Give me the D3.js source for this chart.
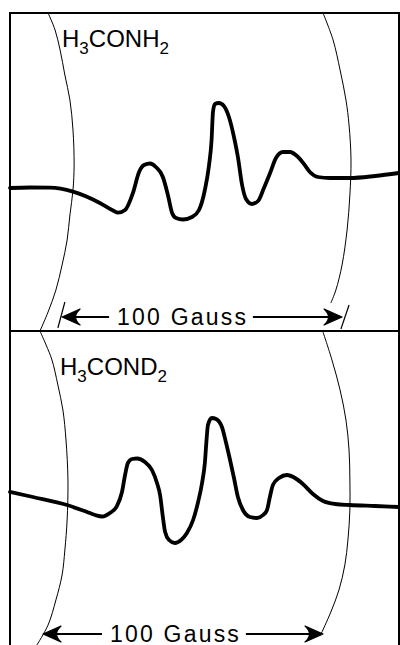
<!DOCTYPE html>
<html>
<head>
<meta charset="utf-8">
<script src="https://cdn.jsdelivr.net/npm/d3@7"></script>
<style>
  body { margin: 0; background: #fff; }
  svg { display: block; }
  text { font-family: "Liberation Sans", Arial, sans-serif; fill: #000; }
</style>
</head>
<body>
<script>
// field in gauss from the left frame edge, signal in arbitrary units (0 = baseline)
var fieldTop = [0, 7.1, 14.3, 22.5, 32.1, 36.8, 38.6, 41.1, 43.9, 46.1, 47.9, 50, 52.1, 54.6, 56.4, 57.9, 59.3, 61.8, 65, 67.5, 69.6, 71.1, 72, 72.5, 73.2, 74.6, 76.4, 78.2, 80, 81.4, 82.9, 84.3, 86.4, 88.6, 90.7, 92.9, 95, 97.5, 100, 102.5, 105, 107.1, 110, 114.3, 121.4, 130.4, 138.9],
  signalTop = [-10, -9.5, -9.7, -13.7, -25, -32.5, -34.7, -32, -15, 6, 13, 14.5, 11, 1, -17, -35, -40, -41.5, -39, -32, -12, 13, 38, 66, 74, 75, 72, 61, 41, 21, -7, -21, -26, -23, -10, 5, 20, 26, 26, 22, 14, 6, 1, 0, 0, 2, 5];

var fieldBottom = [0, 8.2, 20.4, 27.5, 30.4, 32.9, 35.7, 38.2, 40, 41.1, 42.1, 43.6, 45.4, 48.2, 50.7, 52.5, 53.6, 54.6, 55.4, 56.8, 58.9, 61.1, 63.2, 65.4, 67.1, 68.6, 69.6, 70.2, 70.7, 72.1, 73.6, 75.7, 77.1, 78.6, 80, 81.4, 83.2, 85.7, 88.2, 90.4, 91.8, 92.9, 93.9, 96.1, 98.9, 101.8, 104.6, 108.2, 111.8, 116.1, 121.4, 130.4, 138.9],
  signalBottom = [13, 8, 0, -7, -10, -11.5, -8, -1, 13, 30, 42, 46, 46.5, 43, 35, 22, 10, -12, -27, -35, -38, -35, -28, -15, 2, 22, 42, 65, 80, 87, 86, 78, 63, 45, 27, 8, -5, -12, -13, -10, -5, 9, 20, 27, 30, 27, 21, 11, 4, 1, 0, -1, -2];

// pole-face marker arcs, [field, signal] in each panel's units
var arcTopLeft = [[13.6,165],[16.1,148],[17.9,128],[19.6,103],[21.4,78],[22.5,48],[22.9,13],[22.5,-12],[21.4,-37],[20.4,-62],[18.6,-87],[16.4,-112],[13.6,-134],[10.7,-153]],
  arcTopRight = [[111.8,165],[115.4,138],[117.9,108],[120,78],[121.1,53],[121.8,18],[121.4,-17],[120.4,-52],[118.6,-87],[116.4,-112],[114.6,-125]],
  tickTop = [[[19.6,-124],[17.1,-150]], [[121.1,-127],[118.2,-151]]];
var arcBottomLeft = [[10.7,174],[12.9,160],[15,145],[17.1,120],[18.9,95],[20,65],[20.7,25],[20.4,-15],[19.6,-45],[18.6,-70],[16.4,-95],[13.6,-120],[9.6,-140]],
  arcBottomRight = [[111.8,173],[115,145],[117.9,115],[120,85],[121.1,55],[121.4,25],[121.4,-5],[120.7,-35],[119.6,-60],[117.5,-85],[114.6,-107],[111.1,-129]];

var labels = [["H", "3", "CONH", "2"], ["H", "3", "COND", "2"]],
  arrowStart = [18.6, 11.8],
  arrowSpan = 100,
  arrowText = "100 Gauss";

var width = 400, height = 645;
var svg = d3.select("body").append("svg")
  .attr("width", width)
  .attr("height", height);

var x = d3.scaleLinear().domain([0, 139.3]).range([10, 400]);
var yTop = d3.scaleLinear().domain([165, -153]).range([13, 331]),
  yBot = d3.scaleLinear().domain([174, -140]).range([331, 645]);

var panels = [
  { y: yTop, field: fieldTop, signal: signalTop, arcs: [arcTopLeft, arcTopRight], ticks: tickTop, label: labels[0], lx: 62, ly: 47, arrowY: 317, arrow: arrowStart[0], textGap: [55, 7] },
  { y: yBot, field: fieldBottom, signal: signalBottom, arcs: [arcBottomLeft, arcBottomRight], ticks: [], label: labels[1], lx: 60, ly: 375, arrowY: 634, arrow: arrowStart[1], textGap: [67, 7] }
];

// frame
svg.append("path")
  .attr("d", "M10,645 L10,13 L399,13 L399,645")
  .attr("fill", "none").attr("stroke", "#000").attr("stroke-width", 2);
svg.append("line")
  .attr("x1", 10).attr("x2", 399).attr("y1", 331).attr("y2", 331)
  .attr("stroke", "#000").attr("stroke-width", 2);

panels.forEach(function (p) {
  var arcLine = d3.line()
    .x(function (d) { return x(d[0]); })
    .y(function (d) { return p.y(d[1]); })
    .curve(d3.curveCatmullRom);
  p.arcs.forEach(function (a) {
    svg.append("path").attr("d", arcLine(a))
      .attr("fill", "none").attr("stroke", "#000").attr("stroke-width", 1);
  });
  p.ticks.forEach(function (t) {
    svg.append("path").attr("d", d3.line().x(function (d) { return x(d[0]); }).y(function (d) { return p.y(d[1]); })(t))
      .attr("fill", "none").attr("stroke", "#000").attr("stroke-width", 1.2);
  });

  // spectrum trace
  var pts = p.field.map(function (f, i) { return [f, p.signal[i]]; });
  svg.append("path")
    .attr("d", d3.line()
      .x(function (d) { return x(d[0]); })
      .y(function (d) { return p.y(d[1]); })
      .curve(d3.curveMonotoneX)(pts))
    .attr("fill", "none").attr("stroke", "#000")
    .attr("stroke-width", 3.8).attr("stroke-linejoin", "round").attr("stroke-linecap", "round");

  // compound label with subscripts
  var t = svg.append("text").attr("x", p.lx).attr("y", p.ly).style("font-size", "24px");
  p.label.forEach(function (s, i) {
    var sub = i % 2 == 1;
    t.append("tspan").text(s)
      .style("font-size", sub ? "17px" : "24px")
      .attr("dy", sub ? 7 : (i == 0 ? 0 : -7));
  });

  // 100 gauss arrow
  var x0 = x(p.arrow), x1 = x(p.arrow + arrowSpan), ay = p.arrowY;
  var tx = x0 + p.textGap[0];
  var txt = svg.append("text").attr("x", tx).attr("y", ay + 7.5)
    .style("font-size", "23px").style("letter-spacing", "2.2px").text(arrowText);
  var tw = txt.node().getComputedTextLength() - 2.2;
  svg.append("line").attr("x1", x0 + 4).attr("x2", tx - 8).attr("y1", ay).attr("y2", ay)
    .attr("stroke", "#000").attr("stroke-width", 1.8);
  svg.append("line").attr("x1", tx + tw + p.textGap[1]).attr("x2", x1 - 4).attr("y1", ay).attr("y2", ay)
    .attr("stroke", "#000").attr("stroke-width", 1.8);
  [[x0, 1], [x1, -1]].forEach(function (h) {
    var tip = h[0], s = h[1];
    svg.append("path")
      .attr("d", "M" + tip + "," + ay +
        " L" + (tip + s * 18) + "," + (ay - 8) +
        " Q" + (tip + s * 9) + "," + ay + " " + (tip + s * 18) + "," + (ay + 8) + " Z")
      .attr("fill", "#000").attr("stroke", "#000").attr("stroke-width", 1.2).attr("stroke-linejoin", "round");
  });
});
</script>
</body>
</html>
